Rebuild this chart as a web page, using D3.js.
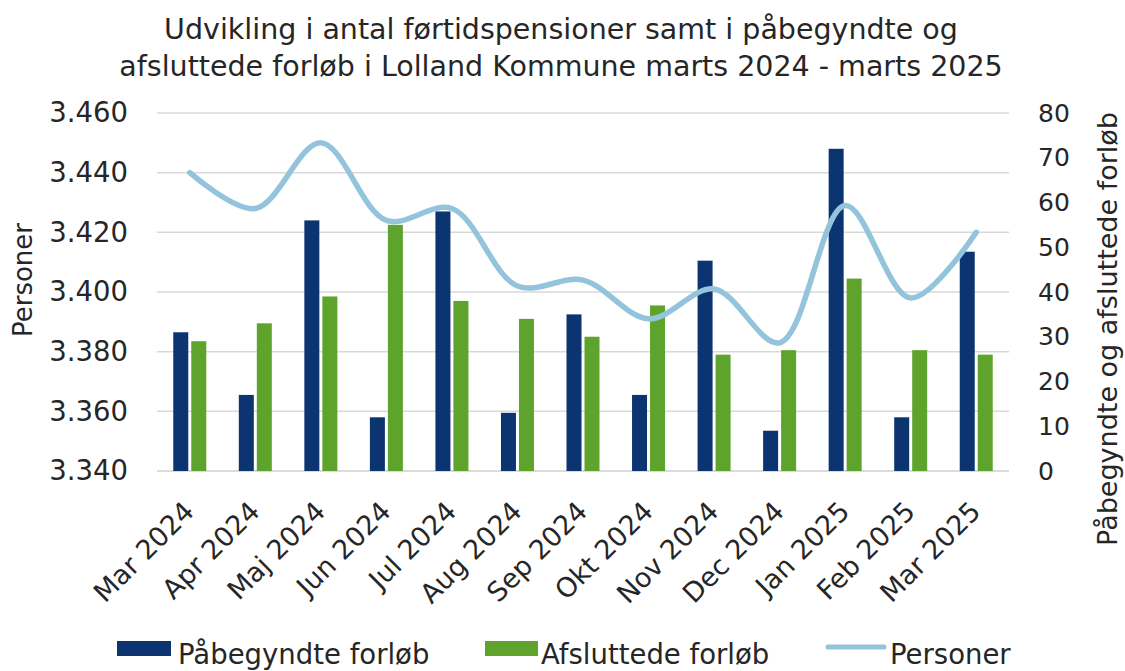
<!DOCTYPE html>
<html><head><meta charset="utf-8">
<script src="https://cdn.jsdelivr.net/npm/d3@7"></script>
<style>
body{margin:0;background:#fff;}
svg text{font-family:"DejaVu Sans",Verdana,sans-serif;fill:#262626;}
</style></head>
<body><svg id="c" width="1125" height="671"></svg>
<script>
const categories = ["Mar 2024","Apr 2024","Maj 2024","Jun 2024","Jul 2024","Aug 2024","Sep 2024","Okt 2024","Nov 2024","Dec 2024","Jan 2025","Feb 2025","Mar 2025"];
const paabegyndte = [31,17,56,12,58,13,35,17,47,9,72,12,49];
const afsluttede = [29,33,39,55,38,34,30,37,26,27,43,27,26];
const personer = [3440,3428,3450,3424,3428,3402,3404,3391,3401,3383,3429,3398,3420];
const leftTicks = [3340,3360,3380,3400,3420,3440,3460];
const rightTicks = [0,10,20,30,40,50,60,70,80];
const titleLines = ["Udvikling i antal førtidspensioner samt i påbegyndte og","afsluttede forløb i Lolland Kommune marts 2024 - marts 2025"];

const svg = d3.select("#c");
const L = 157, R = 1009, T = 113, B = 471;
const x = d3.scaleBand().domain(categories).range([L, R]).paddingInner(0).paddingOuter(0);
const yL = d3.scaleLinear().domain([3340,3460]).range([B, T]);
const yR = d3.scaleLinear().domain([0,80]).range([B, T]);
const navy = "#0b3470", green = "#5ea32b", lineC = "#93c4dc";

// title
svg.append("g").selectAll("text").data(titleLines).join("text")
  .attr("x", 561).attr("y", (d,i)=>39 + i*37).attr("text-anchor","middle")
  .style("font-size","28.5px").text(d=>d);

// gridlines
svg.append("g").selectAll("line").data(leftTicks).join("line")
  .attr("x1", L).attr("x2", R).attr("y1", d=>yL(d)).attr("y2", d=>yL(d))
  .attr("stroke", d=> d===3340 ? "#cfcfcf" : "#d9d9d9").attr("stroke-width", 1.5);

// left axis
const fmt = d => d3.format(",")(d).replace(",", ".") ;
const gl = svg.append("g").attr("transform", `translate(${L},0)`)
  .call(d3.axisLeft(yL).tickValues(leftTicks).tickFormat(d=>fmt(d)).tickSize(0).tickPadding(29));
gl.select(".domain").remove();
gl.selectAll("text").style("font-size","27.5px").style("font-family","DejaVu Sans").attr("fill","#262626");

// right axis
const gr = svg.append("g").attr("transform", `translate(${R},0)`)
  .call(d3.axisRight(yR).tickValues(rightTicks).tickSize(0).tickPadding(29));
gr.select(".domain").remove();
gr.selectAll("text").style("font-size","25px").style("font-family","DejaVu Sans").attr("fill","#262626");

// axis titles
svg.append("text").attr("transform","translate(32,280) rotate(-90)").attr("text-anchor","middle")
  .style("font-size","26px").text("Personer");
svg.append("text").attr("transform","translate(1117,329) rotate(-90)").attr("text-anchor","middle")
  .style("font-size","27px").text("Påbegyndte og afsluttede forløb");

// bars
const bw = 15, gap = 3;
const g = svg.append("g");
g.selectAll("rect.p").data(paabegyndte).join("rect").attr("class","p")
  .attr("x",(d,i)=>x(categories[i]) + x.bandwidth()/2 - gap/2 - bw)
  .attr("width", bw).attr("y", d=>yR(d)).attr("height", d=>yR(0)-yR(d)).attr("fill", navy);
g.selectAll("rect.a").data(afsluttede).join("rect").attr("class","a")
  .attr("x",(d,i)=>x(categories[i]) + x.bandwidth()/2 + gap/2)
  .attr("width", bw).attr("y", d=>yR(d)).attr("height", d=>yR(0)-yR(d)).attr("fill", green);

// line
const line = d3.line().x((d,i)=>x(categories[i]) + x.bandwidth()/2).y(d=>yL(d)).curve(d3.curveCatmullRom.alpha(0.5));
svg.append("path").datum(personer).attr("d", line).attr("fill","none")
  .attr("stroke", lineC).attr("stroke-width", 5.5).attr("stroke-linecap","round");

// x labels
svg.append("g").selectAll("text").data(categories).join("text")
  .attr("transform", d=>`translate(${x(d)+x.bandwidth()/2+6},513) rotate(-45)`)
  .attr("text-anchor","end").style("font-size","27px").text(d=>d);

// legend
const lg = svg.append("g");
lg.append("rect").attr("x",117).attr("y",641).attr("width",54).attr("height",15).attr("fill",navy);
lg.append("text").attr("x",178).attr("y",664).style("font-size","27.5px").text("Påbegyndte forløb");
lg.append("rect").attr("x",485).attr("y",641).attr("width",53).attr("height",15).attr("fill",green);
lg.append("text").attr("x",541).attr("y",664).style("font-size","27.5px").text("Afsluttede forløb");
lg.append("line").attr("x1",828).attr("x2",884).attr("y1",647).attr("y2",647).attr("stroke",lineC).attr("stroke-width",5).attr("stroke-linecap","round");
lg.append("text").attr("x",890).attr("y",664).style("font-size","27.5px").text("Personer");
</script></body></html>
